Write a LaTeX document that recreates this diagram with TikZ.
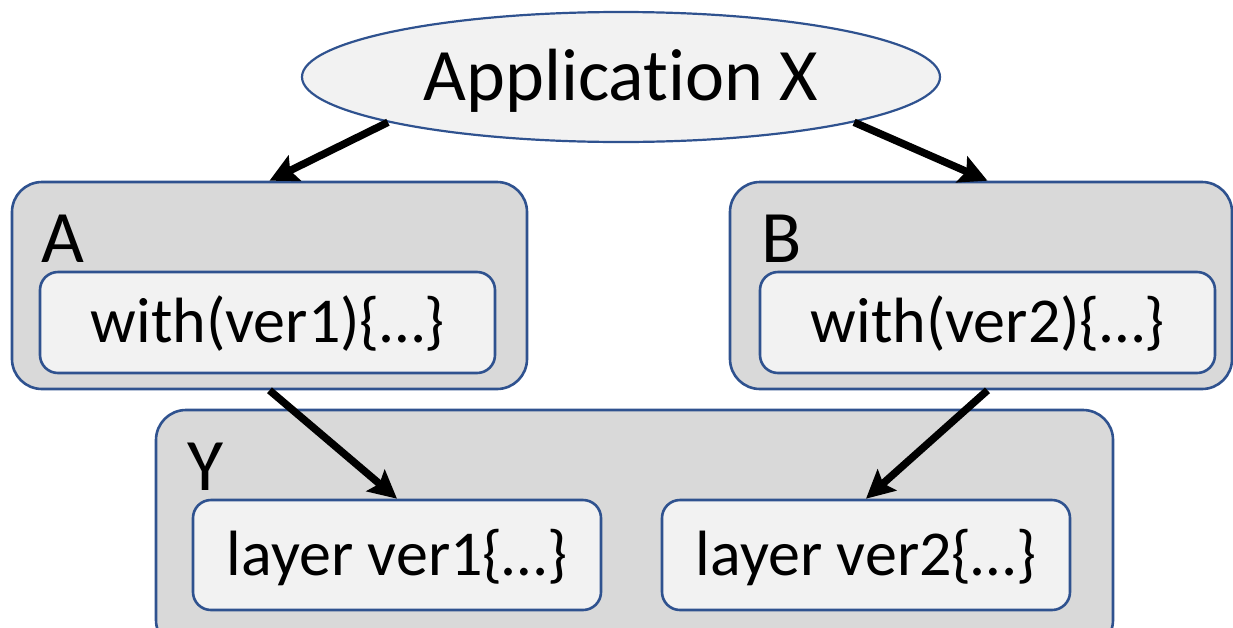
\documentclass[tikz,border=0pt]{standalone}
\usepackage{fontspec}
\setmainfont{Carlito}[Ligatures=NoCommon]
\usetikzlibrary{shapes.geometric,arrows.meta}
\definecolor{edgeblue}{HTML}{2F528F}
\definecolor{outerfill}{HTML}{D9D9D9}
\definecolor{innerfill}{HTML}{F2F2F2}
\begin{document}
\begin{tikzpicture}[x=1pt,y=-1pt,
  bigfont/.style={font=\fontsize{74}{80}\selectfont},
  bodyfont/.style={font=\fontsize{64}{70}\selectfont},
  outerbox/.style={draw=edgeblue, line width=2.6pt, fill=outerfill,
    rounded corners=30pt, inner sep=0pt},
  innerbox/.style={draw=edgeblue, line width=2.6pt, fill=innerfill,
    rounded corners=18pt, inner sep=0pt, bodyfont,
    text height=40.4pt, text depth=0pt},
  boxlabel/.style={anchor=base west, inner sep=0pt, bigfont},
  link/.style={line width=7.5pt, -{Stealth[length=28pt,width=28pt,inset=5pt]}}]
\useasboundingbox (0,0) rectangle (1233,627);

% top-level application
\node[ellipse, draw=edgeblue, line width=2.2pt, fill=innerfill,
      minimum width=638pt, minimum height=130pt, inner sep=0pt, bigfont,
      text height=46.8pt, text depth=0pt] (app) at (621,77) {Application X};

% modules A and B
\node[outerbox, minimum width=515pt, minimum height=207pt] (A) at (269.5,285.5) {};
\node[outerbox, minimum width=502pt, minimum height=207pt] (B) at (981,285.5) {};
\node[boxlabel] (labA) at (41,262) {A};
\node[boxlabel] (labB) at (761,262) {B};
\node[innerbox, minimum width=455pt, minimum height=101pt] (Ain) at (267.5,322.5) {with(ver1)\{…\}};
\node[innerbox, minimum width=455pt, minimum height=101pt] (Bin) at (987.5,322.5) {with(ver2)\{…\}};

% library Y with its two layers
\node[outerbox, minimum width=957pt, minimum height=240pt] (Y) at (634.5,530) {};
\node[boxlabel] (labY) at (187,490) {Y};
\node[innerbox, minimum width=408pt, minimum height=110pt] (L1) at (397,555) {layer ver1\{…\}};
\node[innerbox, minimum width=408pt, minimum height=110pt] (L2) at (866,555) {layer ver2\{…\}};

% dependencies
\draw[link] (app.191.6) -- (A.north);
\draw[link] (app.-11.5) -- (B.north -| Bin.center);
\draw[link] (A.south) -- (L1.north);
\draw[link] (B.south -| Bin.center) -- (L2.north);
\end{tikzpicture}
\end{document}
